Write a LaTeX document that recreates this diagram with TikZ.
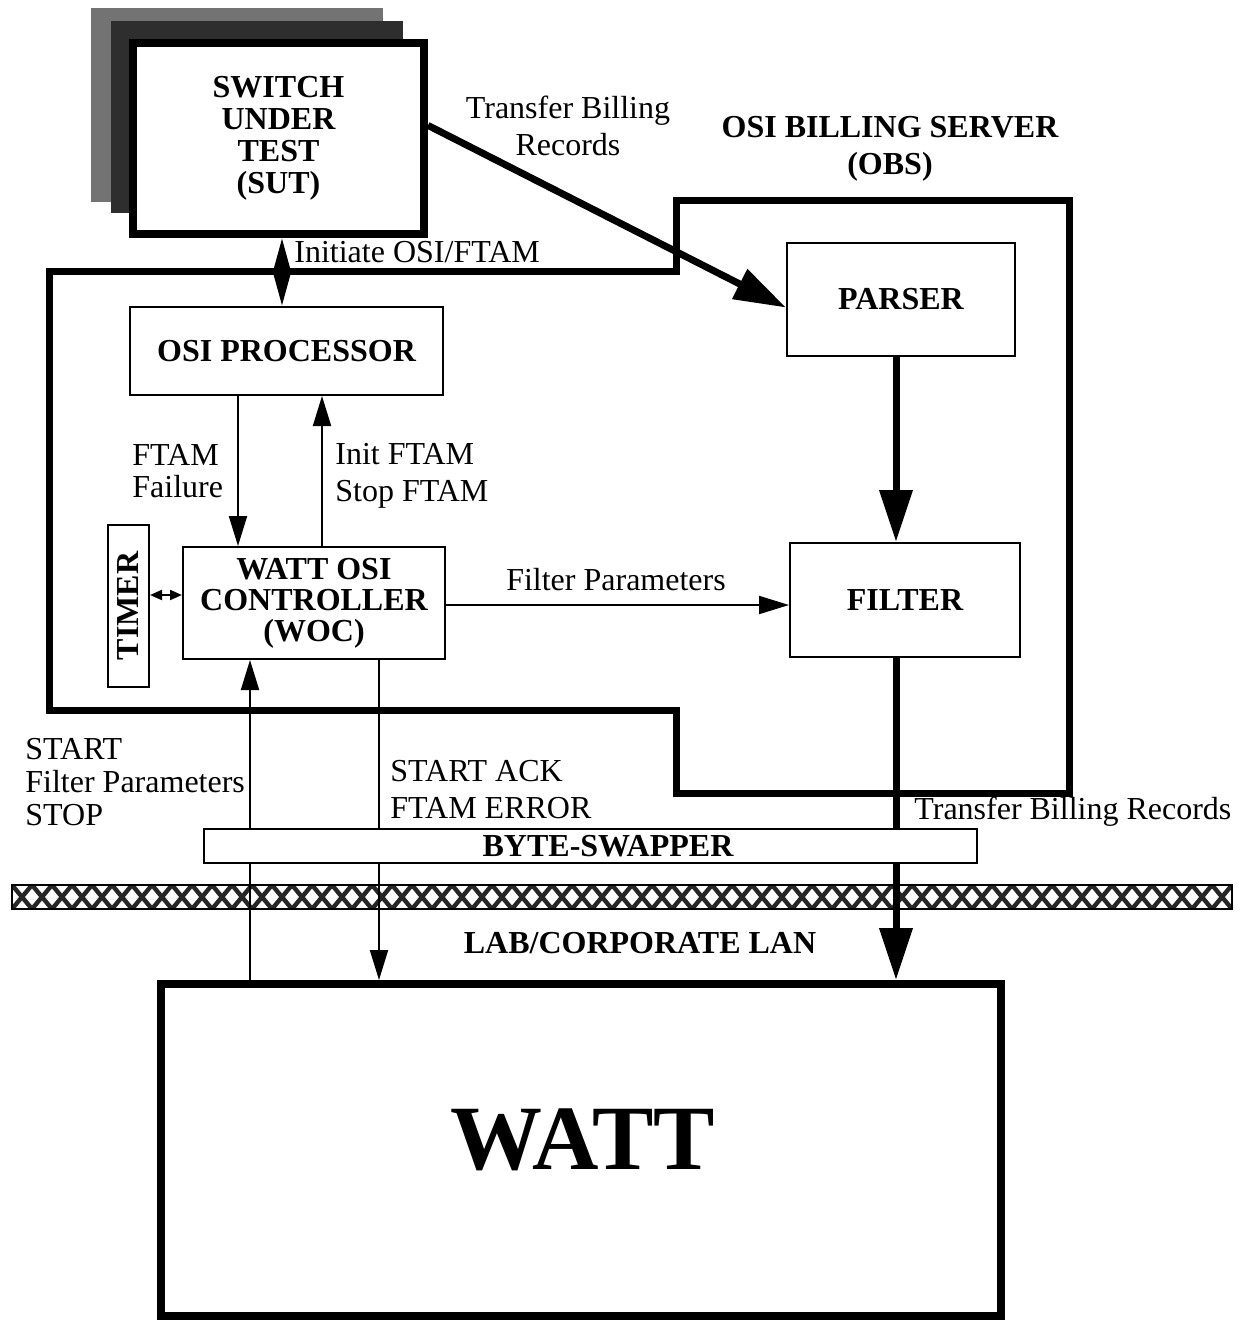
\documentclass[tikz,border=0pt]{standalone}
\usepackage{fontspec}
\setmainfont{Liberation Serif}
\usetikzlibrary{arrows.meta}
\begin{document}
\begin{tikzpicture}[x=0.5pt,y=-0.5pt,
  lbl/.style={font=\fontsize{16}{16.5}\selectfont, inner sep=0pt},
  blbl/.style={font=\fontsize{16}{16.5}\selectfont\bfseries, inner sep=0pt},
  box/.style={draw, line width=1pt, fill=white, inner sep=0pt, align=center,
    font=\fontsize{16}{16.5}\selectfont\bfseries},
  thinarrow/.style={line width=1pt, -{Triangle[length=15pt,width=9pt]}},
  thickarrow/.style={line width=3.5pt, -{Triangle[length=26pt,width=16pt]}},
  thickline/.style={line width=3.5pt}
]
\useasboundingbox (0,0) rectangle (1240,1322);

% SUT with stacked shadows
\fill[black!55] (91,8) rectangle (383,202);
\fill[black!82] (111,21) rectangle (403,213);
\node[box, line width=4pt, minimum width=145.5pt, minimum height=95.5pt,
  font=\fontsize{16}{16}\selectfont\bfseries] (sut) at (278.5,138.5)
  {SWITCH\\UNDER\\TEST\\(SUT)};

% Enclosure of OBS and WOC region
\draw[thickline, line join=miter]
  (49.5,271) -- (676,271) -- (676,200) -- (1069,200) -- (1069,793)
  -- (676,793) -- (676,710) -- (49.5,710) -- cycle;

% Boxes
\node[box, minimum width=156.5pt, minimum height=44pt] (osip) at (286.5,351) {OSI PROCESSOR};
\node[box, minimum width=131pt, minimum height=56pt,
  font=\fontsize{16}{15.5}\selectfont\bfseries] (woc) at (314,603)
  {WATT OSI\\CONTROLLER\\(WOC)};
\node[box, minimum width=20.5pt, minimum height=81pt] (timer) at (128.5,606) {};
\node[blbl, rotate=90] (timertxt) at (timer.center) {TIMER};
\node[box, minimum width=114pt, minimum height=56.5pt] (parser) at (901,299.5) {PARSER};
\node[box, minimum width=115pt, minimum height=57pt] (filter) at (905,600) {FILTER};
\node[box, line width=4pt, minimum width=420pt, minimum height=166pt] (watt) at (581,1150) {};
\node[inner sep=0pt, font=\fontsize{46}{46}\selectfont\bfseries] (watttxt) at (583,1140) {WATT};

% LAN band (cross-hatched)
\begin{scope}
  \clip (12,885) rectangle (1232,909);
  \foreach \i in {0,...,61} {
    \draw[line width=2.2pt, black!85] (12+20*\i,885) -- ++(20,24);
    \draw[line width=2.2pt, black!85] (32+20*\i,885) -- ++(-20,24);
  }
\end{scope}
\node[draw, line width=1.2pt, minimum width=610pt, minimum height=12pt, inner sep=0pt] (lan) at (622,897) {};

% coordinates for arrow columns
\coordinate (xinit) at (282,0);
\coordinate (xfail) at (238,0);
\coordinate (xinitf) at (322,0);
\coordinate (xpf) at (896,0);
\coordinate (xup) at (250,0);
\coordinate (xdown) at (379,0);
\coordinate (ytimer) at (0,595);
\coordinate (yfp) at (0,605);

% Connectors
\draw[line width=2pt, {Triangle[length=16pt,width=8pt]}-{Triangle[length=16pt,width=8pt]}]
  (xinit |- sut.south) -- (xinit |- osip.north);
\draw[thickarrow] (sut.5) -- (parser.184);
\draw[thickarrow] (xpf |- parser.south) -- (xpf |- filter.north);
\draw[thinarrow] (xfail |- osip.south) -- (xfail |- woc.north);
\draw[thinarrow] (xinitf |- woc.north) -- (xinitf |- osip.south);
\draw[thinarrow] (woc.east |- yfp) -- (filter.west |- yfp);
\draw[line width=1pt, {Triangle[length=6pt,width=5pt]}-{Triangle[length=6pt,width=5pt]}]
  (timer.east |- ytimer) -- (woc.west |- ytimer);
\draw[thinarrow] (xup |- watt.north) -- (xup |- woc.south);
\draw[thinarrow] (xdown |- woc.south) -- (xdown |- watt.north);
\draw[thickarrow] (filter.south -| xpf) -- (xpf |- watt.north);

% Byte swapper on top
\node[box, minimum width=386.5pt, minimum height=17pt] (bswap) at (590.5,846) {};
\node[blbl] (bswaptxt) at (608,846) {BYTE-SWAPPER};

% Labels
\node[lbl, anchor=west] (linit) at (294,252) {Initiate OSI/FTAM};
\node[lbl, align=center, font=\fontsize{16}{18.5}\selectfont] (ltbr1) at (568,126) {Transfer Billing\\Records};
\node[blbl, align=center, font=\fontsize{16}{18.5}\selectfont\bfseries] (lobs) at (890,149) {OSI BILLING SERVER\\(OBS)};
\node[lbl, align=left, anchor=west, font=\fontsize{16}{16}\selectfont] (lfail) at (132,471) {FTAM\\Failure};
\node[lbl, align=left, anchor=west, font=\fontsize{16}{18.5}\selectfont] (linitf) at (335,476) {Init FTAM\\Stop FTAM};
\node[lbl] (lfp) at (616,580) {Filter Parameters};
\node[lbl, align=left, anchor=west] (lstart) at (25,782) {START\\Filter Parameters\\STOP};
\node[lbl, align=left, anchor=west, font=\fontsize{16}{18.5}\selectfont] (lack) at (390,790) {START ACK\\FTAM ERROR};
\node[lbl, anchor=west] (ltbr2) at (914,812) {Transfer Billing Records};
\node[blbl] (llan) at (640,943) {LAB/CORPORATE LAN};
\end{tikzpicture}
\end{document}
